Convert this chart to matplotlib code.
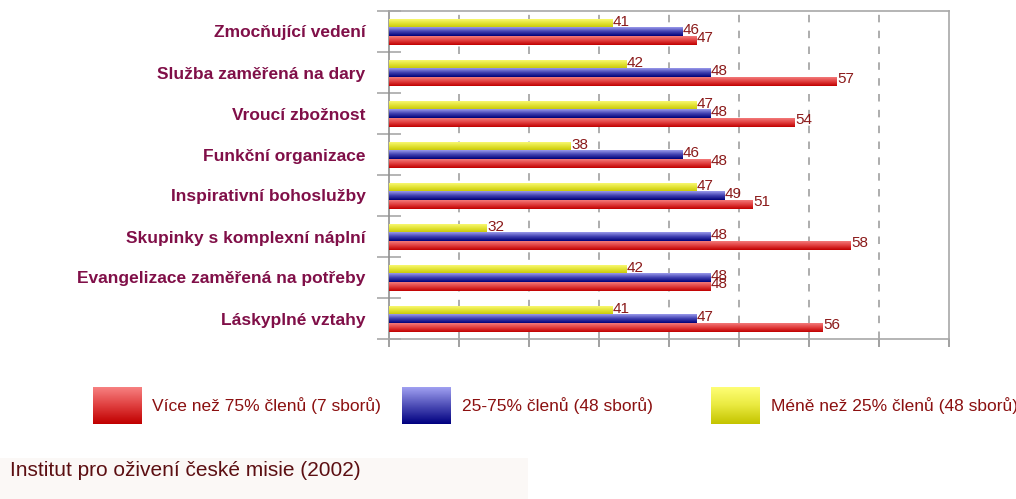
import numpy as np
import matplotlib
matplotlib.use("Agg")
import matplotlib.pyplot as plt
from matplotlib.colors import LinearSegmentedColormap
from matplotlib.patches import Rectangle

plt.rcParams['font.family'] = ['Liberation Sans', 'DejaVu Sans']

categories = ["Zmocňující vedení", "Služba zaměřená na dary", "Vroucí zbožnost",
              "Funkční organizace", "Inspirativní bohoslužby", "Skupinky s komplexní náplní",
              "Evangelizace zaměřená na potřeby", "Láskyplné vztahy"]
series_names = ["Více než 75% členů (7 sborů)", "25-75% členů (48 sborů)",
                "Méně než 25% členů (48 sborů)"]
more75 = [47, 57, 54, 48, 51, 58, 48, 56]
mid2575 = [46, 48, 48, 46, 49, 48, 48, 47]
less25 = [41, 42, 47, 38, 47, 32, 42, 41]
source = "Institut pro oživení české misie (2002)"

W, H = 1016, 499
fig = plt.figure(figsize=(W / 100, H / 100), dpi=100)
fig.patch.set_facecolor('white')

# footer background box
fig.patches.append(Rectangle((0, 0), 528 / W, 41 / H, transform=fig.transFigure,
                             facecolor='#FBF8F6', edgecolor='none', zorder=0))

left, right, top, bottom = 389, 949, 11, 339
ax = fig.add_axes([left / W, 1 - bottom / H, (right - left) / W, (bottom - top) / H])

cmaps = {
    'red': LinearSegmentedColormap.from_list('r', ['#F27A7A', '#E03C3C', '#C00000']),
    'blue': LinearSegmentedColormap.from_list('b', ['#9A9AEC', '#4040B0', '#000078']),
    'yellow': LinearSegmentedColormap.from_list('y', ['#F8F870', '#E0E030', '#C4C400']),
}
grad = np.linspace(0, 1, 64).reshape(-1, 1)

y = np.arange(len(categories))
h = 0.2
shift = 0.02
series = [(less25, 'yellow', -h), (mid2575, 'blue', 0.0), (more75, 'red', h)]
val_color = '#8B1A1A'
for vals, cname, off in series:
    bars = ax.barh(y + off + shift, vals, height=h, left=0, color='none', edgecolor='none')
    for rect, v in zip(bars.patches, vals):
        x0, y0 = rect.get_x(), rect.get_y()
        w, hh = rect.get_width(), rect.get_height()
        ax.imshow(grad, extent=[25, x0 + w, y0 + hh, y0], aspect='auto',
                  cmap=cmaps[cname], zorder=3, interpolation='bilinear')
        ax.text(v, y0 + hh / 2 - 0.05, str(v), ha='left', va='center',
                fontsize=11, color=val_color, zorder=5)

ax.set_xlim(25, 65)
ax.set_ylim(len(categories) - 0.5, -0.5)

# grid
for gx in range(30, 65, 5):
    ax.axvline(gx, color='#A0A0A0', lw=1.2, ls=(0, (4.5, 5)), zorder=1)

for s in ax.spines.values():
    s.set_color('#A8A8A8')
    s.set_linewidth(1.2)
ax.spines['left'].set_color('#909090')

ax.set_xticks(range(25, 66, 5))
ax.set_xticklabels([])
ax.tick_params(axis='x', direction='out', length=6, color='#909090', width=1.2)

ax.set_yticks(y)
ax.set_yticklabels(categories, fontsize=12.5, fontweight='bold', color='#800F48')
ax.tick_params(axis='y', length=0, pad=17)
ax.set_yticks(np.arange(-0.5, len(categories) + 0.5, 1), minor=True)
ax.tick_params(axis='y', which='minor', direction='inout', length=17, color='#A8A8A8', width=1.2)

# legend (manual)
leg_cmaps = [
    LinearSegmentedColormap.from_list('lr', ['#F88484', '#E04040', '#C00000']),
    LinearSegmentedColormap.from_list('lb', ['#A4A4F4', '#5050B8', '#000080']),
    LinearSegmentedColormap.from_list('ly', ['#FFFF78', '#EAEA40', '#C4C400']),
]
box_x = [93, 402, 711]
text_x = [152, 462, 771]
by0, by1 = 387, 424
for bx, tx, cm, name in zip(box_x, text_x, leg_cmaps, series_names):
    bax = fig.add_axes([bx / W, 1 - by1 / H, 49 / W, (by1 - by0) / H])
    bax.imshow(grad, aspect='auto', cmap=cm, interpolation='bilinear')
    bax.axis('off')
    fig.text(tx / W, 1 - 406 / H, name, ha='left', va='center', fontsize=12.5,
             color='#8B1010')

fig.text(10 / W, 1 - 470 / H, source, ha='left', va='center', fontsize=15,
         color='#5C0F12')

fig.savefig('out.png', dpi=100)
